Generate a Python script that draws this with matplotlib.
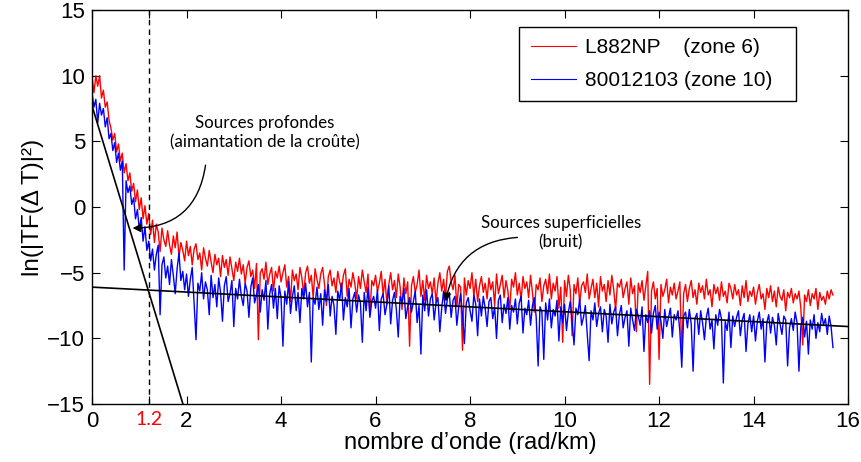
import numpy as np
import matplotlib
matplotlib.use("Agg")
import matplotlib.pyplot as plt

# wavenumber grid (rad/km), regular step
dk = 0.04
n_pts = 393

# ln|TF(dT)|^2 for profile L882NP (zone 6)
red_vals = [
    9.9, 8.7, 10.0, 9.2, 10.0, 8.3, 8.9, 7.6, 8.0, 6.6,
    6.0, 5.1, 5.6, 4.2, 4.8, 3.5, 4.1, 2.6, 3.3, 2.0,
    2.6, 1.2, 1.8, 0.4, 1.3, -0.2, 0.7, -0.9, 0.1, -1.3,
    -0.5, -2.1, -1.0, -2.7, -1.3, -1.9, -3.4, -1.6, -2.5, -3.0,
    -1.8, -2.9, -3.6, -2.2, -3.1, -1.9, -3.8, -2.7, -3.3, -4.1,
    -2.6, -3.7, -3.0, -4.4, -3.2, -2.8, -4.0, -3.5, -4.8, -3.1,
    -3.9, -4.5, -3.3, -4.2, -5.0, -3.6, -4.4, -3.9, -5.3, -3.7,
    -4.6, -4.0, -5.2, -3.8, -4.7, -5.6, -4.2, -4.9, -3.9, -5.1,
    -4.4, -5.8, -4.6, -4.1, -5.3, -4.8, -6.2, -4.3, -10.1, -5.0,
    -4.7, -5.5, -4.2, -5.9, -5.1, -4.6, -6.4, -4.9, -5.4, -4.5,
    -5.7, -5.0, -4.4, -6.1, -5.3, -7.2, -4.8, -5.6, -5.1, -6.3,
    -4.6, -5.4, -6.6, -5.0, -4.5, -5.8, -5.2, -6.9, -4.7, -5.5,
    -6.2, -5.1, -4.6, -5.9, -7.5, -5.3, -4.8, -6.0, -5.4, -6.5,
    -4.9, -5.7, -6.3, -5.2, -4.7, -6.8, -5.5, -6.1, -5.0, -5.8,
    -7.0, -5.3, -6.2, -4.8, -5.7, -6.5, -5.1, -8.2, -5.6, -6.0,
    -5.2, -6.4, -5.8, -4.9, -6.7, -5.5, -7.4, -5.9, -5.0, -6.3,
    -5.6, -6.9, -5.1, -6.1, -7.8, -5.4, -6.6, -5.7, -10.6, -6.0,
    -5.3, -6.5, -5.9, -4.8, -6.8, -5.6, -7.1, -5.2, -6.2, -5.7,
    -6.6, -5.4, -7.3, -5.8, -5.0, -6.4, -5.5, -6.9, -4.9, -4.5,
    -5.7, -6.3, -5.2, -7.6, -5.9, -6.1, -10.9, -5.4, -6.7, -5.6,
    -6.2, -5.0, -6.8, -5.5, -7.2, -6.0, -5.3, -6.5, -5.8, -7.0,
    -5.4, -6.3, -5.7, -7.5, -5.1, -6.6, -5.9, -5.2, -6.9, -5.6,
    -6.4, -7.8, -5.5, -6.1, -5.0, -6.7, -5.8, -7.1, -5.3, -6.2,
    -5.7, -6.9, -5.2, -6.5, -8.0, -5.9, -6.3, -5.4, -7.2, -6.0,
    -5.5, -6.6, -5.1, -7.0, -5.8, -6.4, -5.3, -7.7, -6.1, -10.3,
    -5.6, -6.8, -5.2, -6.3, -9.8, -5.9, -6.6, -5.4, -7.3, -6.0,
    -5.7, -6.5, -5.1, -7.0, -6.2, -5.5, -6.9, -5.8, -7.6, -5.3,
    -6.4, -5.9, -7.2, -5.6, -6.7, -5.2, -6.3, -7.8, -5.8, -6.1,
    -5.5, -6.9, -6.2, -5.7, -7.4, -5.4, -6.6, -6.0, -9.5, -5.8,
    -6.5, -5.6, -7.1, -6.0, -4.9, -13.5, -6.4, -5.7, -7.0, -6.2,
    -11.6, -5.9, -6.8, -6.3, -5.5, -7.3, -6.1, -6.7, -5.8, -7.0,
    -6.4, -5.7, -11.4, -6.6, -5.9, -7.2, -6.2, -5.6, -6.9, -6.3,
    -7.4, -5.8, -6.5, -6.0, -7.0, -5.5, -6.7, -6.3, -7.6, -5.9,
    -6.6, -6.1, -7.1, -5.7, -6.8, -6.4, -7.3, -5.8, -6.2, -7.0,
    -5.9, -6.7, -6.3, -7.5, -6.0, -6.9, -5.6, -7.2, -6.4, -6.8,
    -6.1, -7.4, -6.5, -5.9, -7.0, -6.6, -7.8, -6.2, -6.9, -6.0,
    -7.2, -6.4, -7.6, -6.1, -6.8, -7.1, -6.3, -7.9, -6.5, -6.9,
    -6.2, -7.3, -6.6, -7.0, -6.4, -7.7, -10.5, -6.7, -7.2, -6.3,
    -7.5, -6.6, -7.0, -6.2, -7.8, -6.5, -7.1, -6.8, -7.4, -6.4,
    -7.0, -6.3, -6.7,
]

# ln|TF(dT)|^2 for profile 80012103 (zone 10)
blue_vals = [
    8.7, 7.6, 8.2, 6.4, 7.9, 7.0, 7.5, 6.1, 6.8, 5.2,
    5.6, 4.3, 4.9, 3.4, 4.1, 2.8, 3.5, -4.8, 2.0, 1.1,
    1.6, 0.2, 0.7, -0.9, -0.2, -1.7, -0.8, -2.6, -1.5, -3.3,
    -2.6, -4.1, -3.2, -4.8, -3.6, -2.9, -8.2, -4.4, -3.8, -5.4,
    -4.5, -5.9, -4.0, -5.2, -6.6, -4.7, -3.5, -5.6, -4.9, -6.3,
    -5.1, -6.8, -5.5, -4.6, -7.4, -10.1, -5.8, -6.4, -5.0, -7.0,
    -5.7, -6.3, -8.2, -5.2, -6.9, -5.9, -7.6, -5.4, -6.5, -8.7,
    -6.0, -5.3, -7.2, -6.6, -5.6, -9.1, -6.2, -7.0, -5.5, -6.8,
    -7.5, -5.8, -6.4, -8.4, -6.1, -5.4, -7.3, -6.7, -5.9, -8.0,
    -6.3, -7.1, -5.6, -9.3, -6.6, -5.9, -7.7, -6.2, -8.5, -6.0,
    -6.9, -10.6, -6.4, -7.4, -5.7, -8.1, -6.8, -6.0, -7.9, -6.5,
    -8.8, -6.2, -7.0, -5.8, -7.6, -6.5, -11.8, -6.9, -7.4, -6.1,
    -7.8, -6.6, -9.0, -6.3, -7.2, -5.9, -8.3, -6.8, -7.5, -9.7,
    -6.4, -7.1, -5.8, -8.6, -6.9, -7.6, -6.2, -9.2, -7.0, -6.5,
    -8.0, -6.7, -7.3, -10.3, -6.5, -7.9, -6.1, -8.4, -7.2, -6.8,
    -7.7, -6.3, -9.4, -7.0, -6.6, -8.2, -7.4, -6.0, -8.9, -7.1,
    -6.5, -7.8, -9.9, -6.8, -7.3, -6.2, -8.5, -7.6, -6.9, -8.0,
    -7.2, -6.4, -8.8, -7.5, -11.2, -6.7, -7.9, -6.3, -8.3, -7.0,
    -6.6, -8.6, -7.3, -6.9, -9.5, -7.7, -6.4, -8.1, -7.0, -6.5,
    -8.4, -7.1, -6.8, -9.0, -7.6, -6.6, -8.2, -10.4, -7.3, -6.9,
    -7.9, -8.7, -6.7, -7.4, -9.8, -7.0, -8.3, -6.8, -7.7, -9.1,
    -7.2, -6.9, -8.5, -7.6, -10.0, -7.1, -6.7, -8.8, -7.4, -8.1,
    -6.9, -9.3, -7.5, -8.0, -7.0, -8.9, -7.3, -6.8, -9.6, -7.7,
    -8.2, -7.1, -9.0, -7.5, -6.9, -8.4, -12.1, -7.6, -8.0, -11.6,
    -7.3, -8.6, -7.0, -9.2, -7.8, -8.3, -7.1, -10.2, -7.6, -8.8,
    -7.4, -9.4, -8.0, -7.2, -8.7, -10.5, -7.7, -8.2, -7.0, -9.0,
    -8.4, -7.5, -9.7, -11.7, -7.9, -8.6, -7.3, -9.1, -8.1, -7.6,
    -9.5, -7.8, -8.3, -10.3, -7.4, -8.9, -8.0, -7.6, -9.8, -8.2,
    -7.5, -9.2, -8.4, -7.9, -10.6, -7.7, -8.6, -9.4, -7.8, -8.3,
    -9.0, -7.6, -11.0, -8.2, -8.8, -7.9, -9.6, -8.1, -7.5, -9.3,
    -8.0, -8.7, -10.0, -7.8, -9.1, -8.4, -7.7, -9.9, -8.2, -8.6,
    -7.9, -9.5, -12.2, -8.3, -8.0, -9.2, -7.8, -8.9, -12.5, -8.5,
    -8.1, -9.7, -7.9, -8.8, -10.1, -8.4, -7.7, -9.3, -8.6, -10.8,
    -8.2, -9.0, -7.8, -8.5, -13.4, -8.7, -9.4, -8.0, -10.7, -8.3,
    -9.1, -8.4, -7.9, -9.8, -8.6, -8.1, -11.0, -8.9, -8.2, -9.5,
    -8.3, -10.2, -8.7, -8.0, -9.3, -8.5, -11.8, -8.8, -8.2, -9.6,
    -8.4, -9.0, -10.5, -8.1, -8.9, -9.7, -8.3, -8.6, -12.1, -9.2,
    -8.5, -9.4, -8.0, -8.8, -12.5, -9.1, -8.4, -9.9, -8.7, -11.2,
    -8.6, -9.3, -8.2, -10.0, -8.8, -9.5, -8.1, -9.0, -8.5, -9.7,
    -8.3, -9.1, -10.7,
]

# straight-line fits (intercept, slope)
deep_fit = (7.7, -11.8)
noise_fit = (-6.1, -0.1875)
k_cut = 1.2

series_labels = ["L882NP    (zone 6)", "80012103 (zone 10)"]
xtick_vals = [0, 1.2, 2, 4, 6, 8, 10, 12, 14, 16]
xtick_labels = ["0", "1.2", "2", "4", "6", "8", "10", "12", "14", "16"]
ytick_vals = [-15, -10, -5, 0, 5, 10, 15]

k = np.arange(n_pts) * dk

plt.rcParams["font.family"] = ["Liberation Sans", "DejaVu Sans"]
fig = plt.figure(figsize=(8.61, 4.62), dpi=100)
ax = fig.add_axes([0.1069, 0.1255, 0.8781, 0.8528])

ax.plot(k, red_vals, color="#ff0000", lw=1.0, label=series_labels[0])
ax.plot(k, blue_vals, color="#0000ff", lw=1.0, label=series_labels[1])

kl = np.array([0, 16])
ax.plot(kl, deep_fit[0] + deep_fit[1] * kl, color="black", lw=1.2)
ax.plot(kl, noise_fit[0] + noise_fit[1] * kl, color="black", lw=1.2)
ax.axvline(k_cut, color="black", ls=(0, (4, 3)), lw=1.0)

ax.set_xlim(0, 16)
ax.set_ylim(-15, 15)
ax.set_xticks(xtick_vals)
ax.set_xticklabels(xtick_labels)
ax.set_yticks(ytick_vals)
ax.set_yticklabels([str(v).replace("-", "\u2212") for v in ytick_vals])
ax.tick_params(direction="in", length=6, width=0.8, labelsize=16,
               top=True, right=True, pad=5)
lab = ax.get_xticklabels()[1]
lab.set_color("red")
lab.set_fontsize(14)
lab.set_fontfamily(["Lato", "DejaVu Sans"])
for s in ax.spines.values():
    s.set_linewidth(1.0)

ax.set_xlabel("nombre d\u2019onde (rad/km)", fontsize=17, labelpad=0)
ax.set_ylabel("ln(|TF(\u0394 T)|\u00b2)", fontsize=17.5, labelpad=2)

leg = ax.legend(loc="upper left", bbox_to_anchor=(0.5648, 0.70, 0.3664, 0.2569),
                mode="expand", borderaxespad=0, fontsize=15,
                handlelength=2.2, handletextpad=0.4, borderpad=0.55,
                labelspacing=0.65, fancybox=False, edgecolor="black",
                framealpha=1)
leg.get_frame().set_linewidth(1.0)
for ln in leg.get_lines():
    ln.set_linewidth(0.8)

note_font = ["Lato", "DejaVu Sans"]
ax.text(3.66, 5.65, "Sources profondes\n(aimantation de la croûte)",
        ha="center", va="center", fontsize=12.2, family=note_font,
        linespacing=1.3)
ax.annotate("", xy=(0.80, -1.6), xytext=(2.41, 3.4),
            arrowprops=dict(arrowstyle="-|>", color="black", lw=1.0,
                            mutation_scale=12,
                            connectionstyle="arc3,rad=-0.45"))
ax.text(9.92, -1.95, "Sources superficielles\n(bruit)",
        ha="center", va="center", fontsize=12.2, family=note_font,
        linespacing=1.3)
ax.annotate("", xy=(7.47, -7.4), xytext=(9.06, -2.3),
            arrowprops=dict(arrowstyle="-|>", color="black", lw=1.0,
                            mutation_scale=12,
                            connectionstyle="arc3,rad=0.4"))

fig.savefig("out.png", dpi=100)
